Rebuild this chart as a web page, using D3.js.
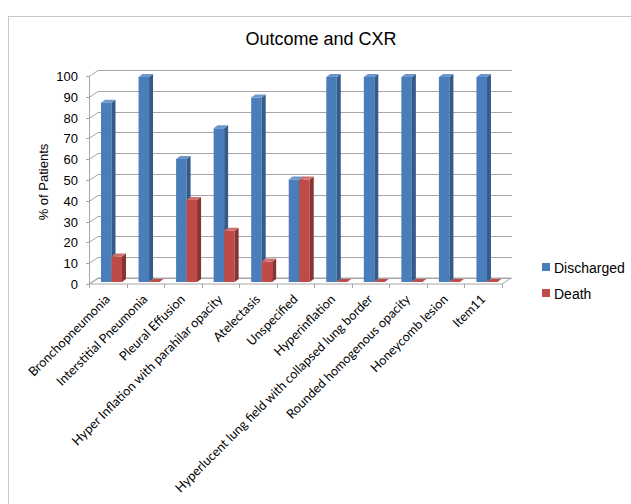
<!DOCTYPE html>
<html>
<head>
<meta charset="utf-8">
<script src="https://cdn.jsdelivr.net/npm/d3@7"></script>
<style>
  html, body { margin: 0; padding: 0; background: #fff; }
  svg { display: block; }
</style>
</head>
<body>
<svg id="chart" width="631" height="504"></svg>
<script>
const categories = [
  "Bronchopneumonia",
  "Interstitial Pneumonia",
  "Pleural Effusion",
  "Hyper Inflation with parahilar opacity",
  "Atelectasis",
  "Unspecified",
  "Hyperinflation",
  "Hyperlucent lung field with collapsed lung border",
  "Rounded homogenous opacity",
  "Honeycomb lesion",
  "Item11"
];
const seriesNames = ["Discharged", "Death"];
const discharged = [87.5, 100, 60, 75, 90, 50, 100, 100, 100, 100, 100];
const death = [12.5, 0, 40, 25, 10, 50, 0, 0, 0, 0, 0];
const yTicks = [0, 10, 20, 30, 40, 50, 60, 70, 80, 90, 100];

const colors = {
  Discharged: { front: "#4A7EBB", side: "#345B8A", top: "#6D97CC" },
  Death: { front: "#BE4B48", side: "#8A3431", top: "#D0716E" }
};

const svg = d3.select("#chart");
const W = 631, H = 504;

// outer frame
svg.append("rect").attr("x", 8.5).attr("y", 16.5).attr("width", W).attr("height", H)
  .attr("fill", "#fff").attr("stroke", "#c8c8c8").attr("stroke-width", 1);

// title
svg.append("text").attr("x", 321).attr("y", 45).attr("text-anchor", "middle")
  .attr("font-family", "Liberation Sans, Arial, sans-serif").attr("font-size", 18)
  .attr("fill", "#000").text("Outcome and CXR");

const x = d3.scaleBand().domain(categories).range([89, 502]).paddingInner(0).paddingOuter(0);
const sub = d3.scaleBand().domain(seriesNames).range([12, 33]);
const yFront = d3.scaleLinear().domain([0, 100]).range([284, 76]);
const yBar = d3.scaleLinear().domain([0, 100]).range([282, 77]);
const DX = 9, DY = -6; // wall depth
const bdx = 4, bdy = -3; // bar depth

const grid = svg.append("g").attr("stroke", "#a6a6a6").attr("stroke-width", 1).attr("fill", "none");
// floor
grid.append("path").attr("d",
  `M${x.range()[0]},${yFront(0)}L${x.range()[1]},${yFront(0)}L${x.range()[1] + DX},${yFront(0) + DY}L${x.range()[0] + DX},${yFront(0) + DY}Z`)
  .attr("fill", "#fff");
// back wall gridlines + diagonal ticks
yTicks.forEach(t => {
  const yf = Math.round(yFront(t)) + 0.5;
  grid.append("line").attr("x1", x.range()[0] + DX).attr("x2", x.range()[1] + DX + 1)
    .attr("y1", yf + DY).attr("y2", yf + DY);
  grid.append("line").attr("x1", x.range()[0] - 3).attr("x2", x.range()[0])
    .attr("y1", yf).attr("y2", yf);
  grid.append("line").attr("x1", x.range()[0]).attr("x2", x.range()[0] + DX)
    .attr("y1", yf).attr("y2", yf + DY);
});
// front vertical axis
grid.append("line").attr("x1", x.range()[0] + 0.5).attr("x2", x.range()[0] + 0.5)
  .attr("y1", yFront(0)).attr("y2", yFront(100));
// category ticks
categories.forEach(c => {
  const xx = Math.round(x(c)) + 0.5;
  grid.append("line").attr("x1", xx).attr("x2", xx).attr("y1", yFront(0)).attr("y2", yFront(0) + 4);
});
grid.append("line").attr("x1", x.range()[1] + 0.5).attr("x2", x.range()[1] + 0.5)
  .attr("y1", yFront(0)).attr("y2", yFront(0) + 4);

// y tick labels
svg.append("g").selectAll("text").data(yTicks).join("text")
  .attr("x", 78).attr("y", d => yFront(d) + 5).attr("text-anchor", "end")
  .attr("font-family", "Liberation Sans, Arial, sans-serif").attr("font-size", 13)
  .attr("fill", "#000").text(d => d);

// y title
svg.append("text").attr("transform", "translate(48,182) rotate(-90)")
  .attr("text-anchor", "middle").attr("font-family", "Liberation Sans, Arial, sans-serif")
  .attr("font-size", 13).attr("fill", "#000").text("% of Patients");

// bars
const data = categories.map((c, i) => ({ c, vals: [{ s: "Discharged", v: discharged[i] }, { s: "Death", v: death[i] }] }));
const bars = svg.append("g");
data.forEach(d => {
  d.vals.forEach(o => {
    const x0 = x(d.c) + sub(o.s);
    const w = sub.bandwidth();
    const yb = yBar(0), yt = yBar(o.v);
    const col = colors[o.s];
    const g = bars.append("g");
    if (o.v > 0) {
      g.append("rect").attr("x", x0).attr("y", yt).attr("width", w).attr("height", yb - yt).attr("fill", col.front);
      g.append("path").attr("d", `M${x0 + w},${yt}L${x0 + w + bdx},${yt + bdy}L${x0 + w + bdx},${yb + bdy}L${x0 + w},${yb}Z`).attr("fill", col.side);
    }
    g.append("path").attr("d", `M${x0},${yt}L${x0 + bdx},${yt + bdy}L${x0 + w + bdx},${yt + bdy}L${x0 + w},${yt}Z`)
      .attr("fill", o.v > 0 ? col.top : col.front);
  });
});

// category labels
svg.append("g").selectAll("text").data(categories).join("text")
  .attr("transform", c => `translate(${x(c) + x.bandwidth() / 2 + 3},${300}) rotate(-45)`)
  .attr("text-anchor", "end")
  .attr("font-family", "Lato, Carlito, Calibri, sans-serif").attr("font-size", 12.7)
  .attr("fill", "#000").text(c => c);

// legend
const leg = svg.append("g");
seriesNames.forEach((s, i) => {
  leg.append("rect").attr("x", 542).attr("y", 263 + i * 26).attr("width", 8).attr("height", 8)
    .attr("fill", colors[s].front);
  leg.append("text").attr("x", 554).attr("y", 273 + i * 26)
    .attr("font-family", "Liberation Sans, Arial, sans-serif").attr("font-size", 14)
    .attr("fill", "#000").text(s);
});
</script>
</body>
</html>
